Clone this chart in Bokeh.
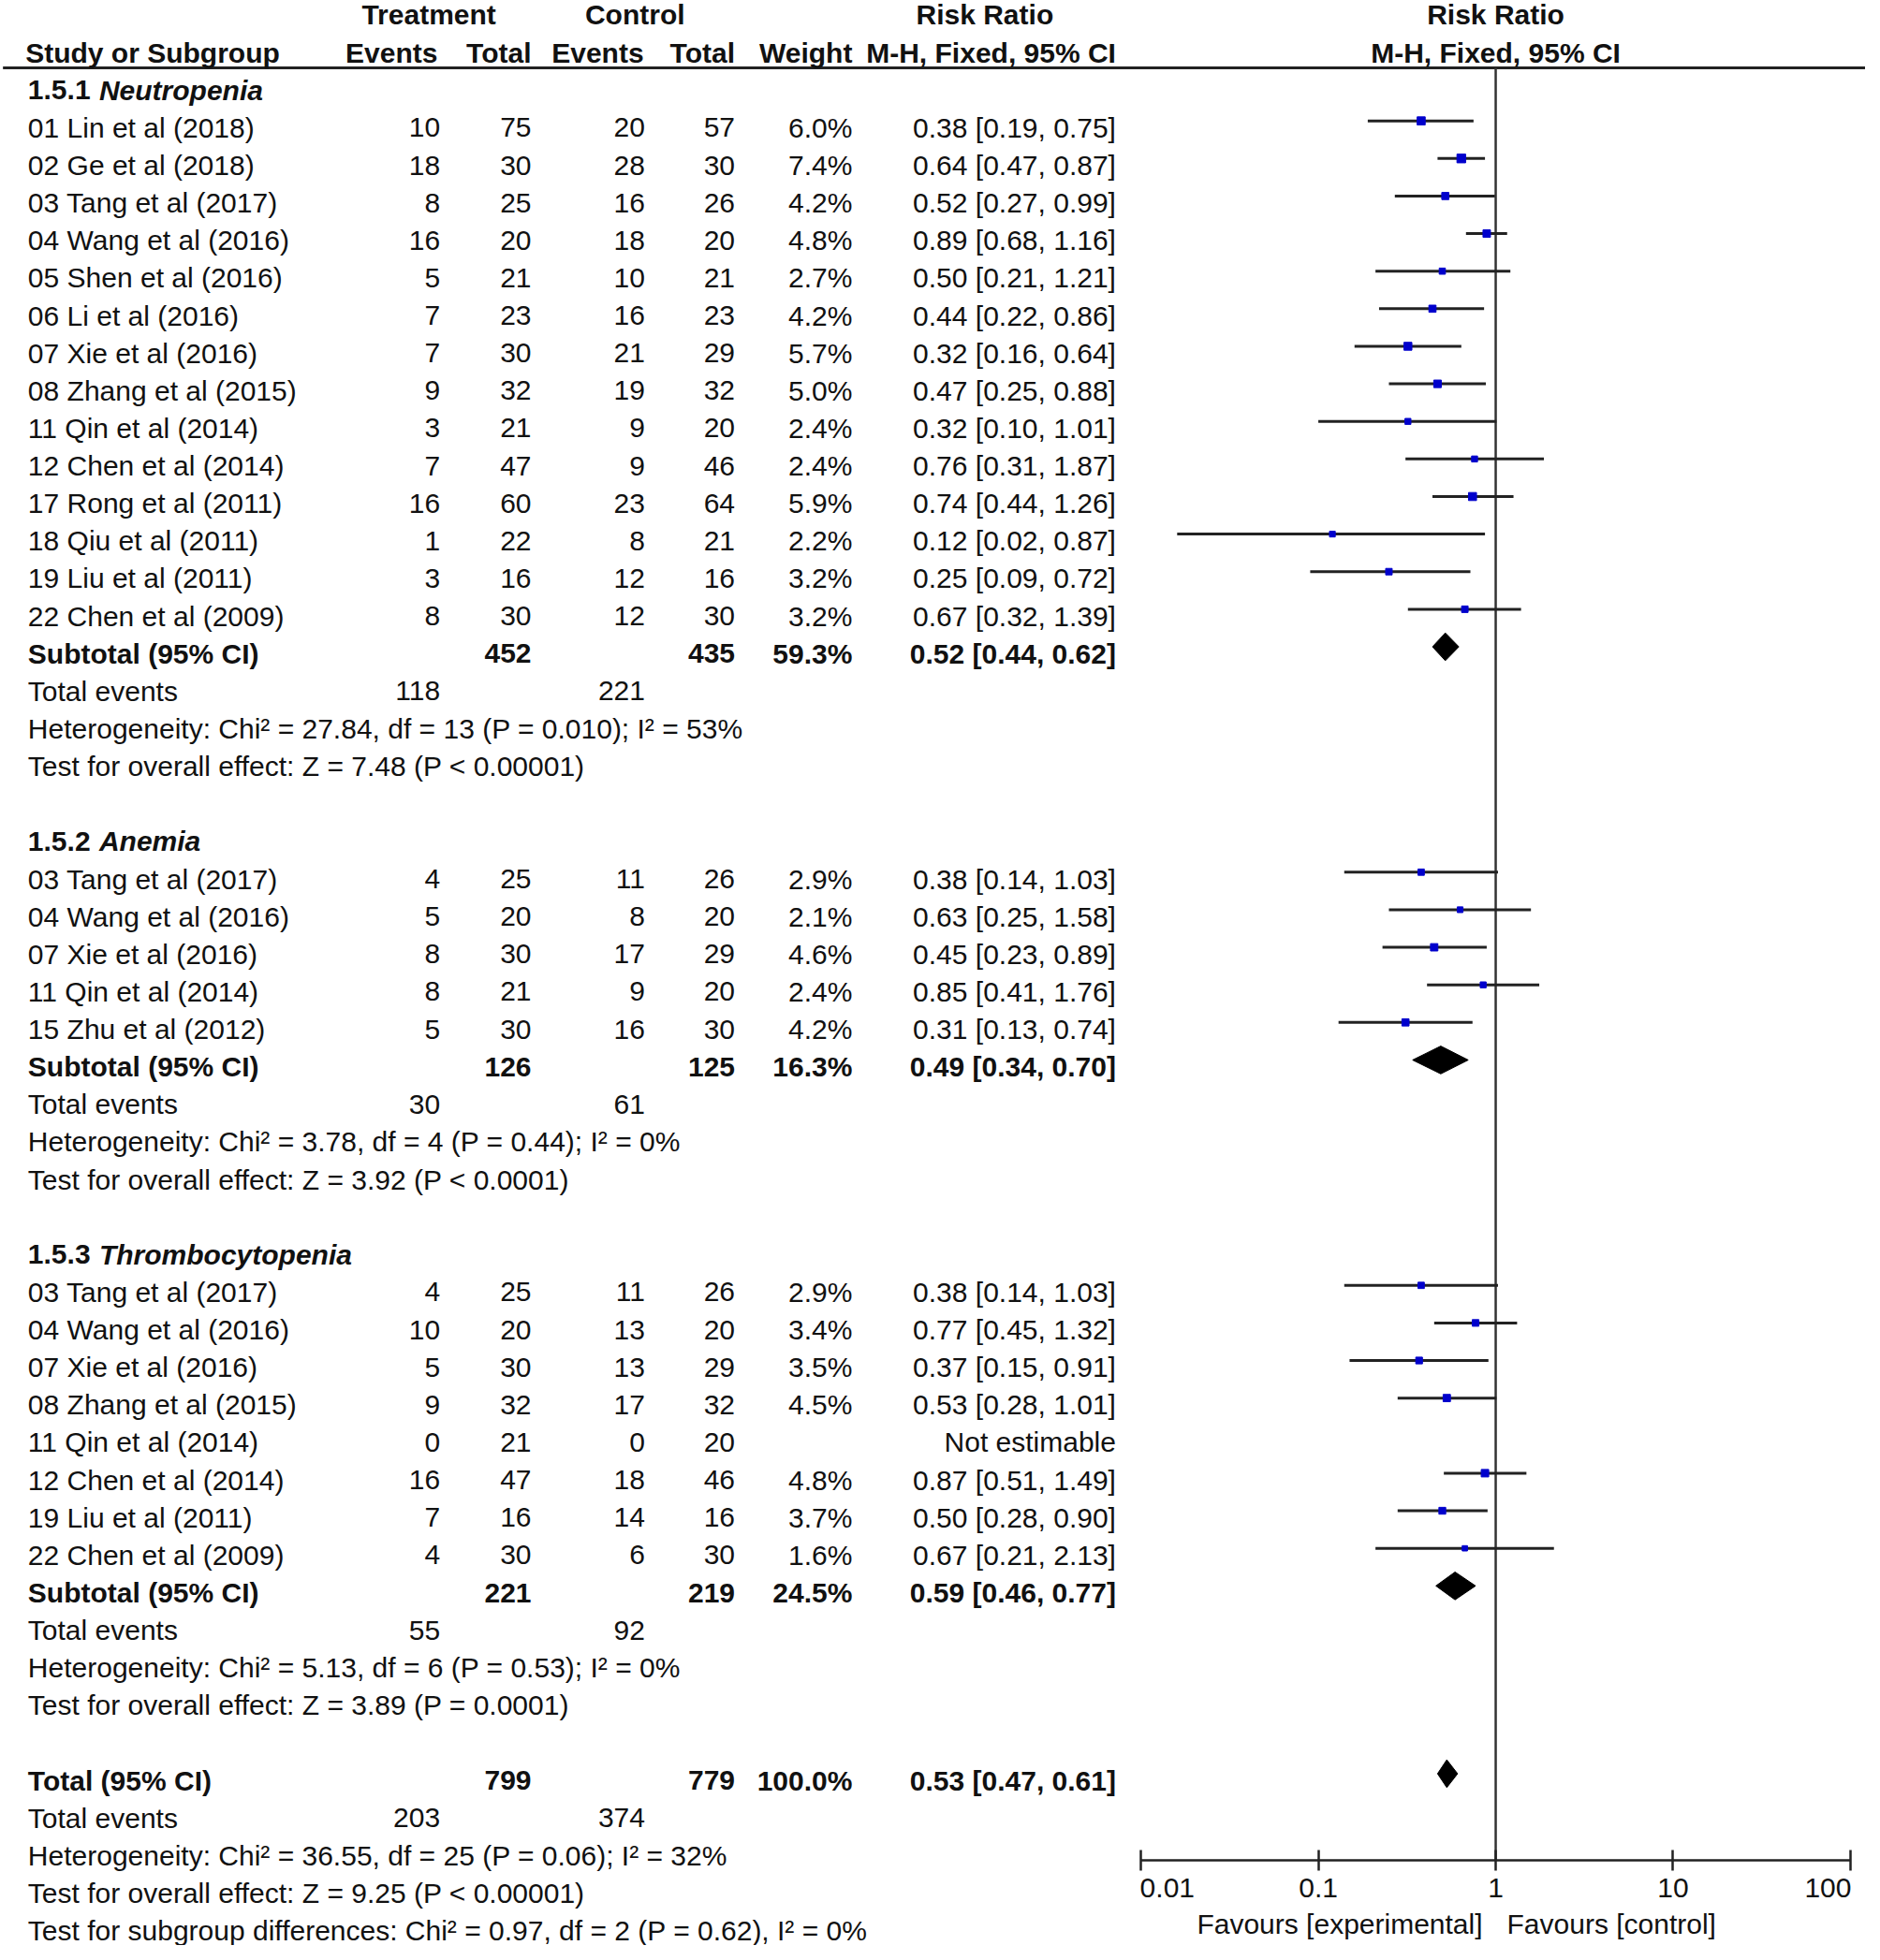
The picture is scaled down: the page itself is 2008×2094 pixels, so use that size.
import math
from bokeh.plotting import figure
from bokeh.models import (Range1d, LogScale, LogAxis, FixedTicker,
                          CustomJSTickFormatter, ColumnDataSource)
from bokeh.core.properties import value
from bokeh.embed import file_html
from bokeh.resources import INLINE

# ---------------------------------------------------------------- data
group_codes = ["1.5.1", "1.5.2", "1.5.3"]
group_names = ["Neutropenia", "Anemia", "Thrombocytopenia"]

neut_study = ["01 Lin et al (2018)", "02 Ge et al (2018)", "03 Tang et al (2017)",
              "04 Wang et al (2016)", "05 Shen et al (2016)", "06 Li et al (2016)",
              "07 Xie et al (2016)", "08 Zhang et al (2015)", "11 Qin et al (2014)",
              "12 Chen et al (2014)", "17 Rong et al (2011)", "18 Qiu et al (2011)",
              "19 Liu et al (2011)", "22 Chen et al (2009)"]
neut_te = [10, 18, 8, 16, 5, 7, 7, 9, 3, 7, 16, 1, 3, 8]
neut_tt = [75, 30, 25, 20, 21, 23, 30, 32, 21, 47, 60, 22, 16, 30]
neut_ce = [20, 28, 16, 18, 10, 16, 21, 19, 9, 9, 23, 8, 12, 12]
neut_ct = [57, 30, 26, 20, 21, 23, 29, 32, 20, 46, 64, 21, 16, 30]
neut_w = [6.0, 7.4, 4.2, 4.8, 2.7, 4.2, 5.7, 5.0, 2.4, 2.4, 5.9, 2.2, 3.2, 3.2]
neut_rr = [0.38, 0.64, 0.52, 0.89, 0.50, 0.44, 0.32, 0.47, 0.32, 0.76, 0.74, 0.12, 0.25, 0.67]
neut_lo = [0.19, 0.47, 0.27, 0.68, 0.21, 0.22, 0.16, 0.25, 0.10, 0.31, 0.44, 0.016, 0.09, 0.32]
neut_hi = [0.75, 0.87, 0.99, 1.16, 1.21, 0.86, 0.64, 0.88, 1.01, 1.87, 1.26, 0.87, 0.72, 1.39]

anem_study = ["03 Tang et al (2017)", "04 Wang et al (2016)", "07 Xie et al (2016)",
              "11 Qin et al (2014)", "15 Zhu et al (2012)"]
anem_te = [4, 5, 8, 8, 5]
anem_tt = [25, 20, 30, 21, 30]
anem_ce = [11, 8, 17, 9, 16]
anem_ct = [26, 20, 29, 20, 30]
anem_w = [2.9, 2.1, 4.6, 2.4, 4.2]
anem_rr = [0.38, 0.63, 0.45, 0.85, 0.31]
anem_lo = [0.14, 0.25, 0.23, 0.41, 0.13]
anem_hi = [1.03, 1.58, 0.89, 1.76, 0.74]

thro_study = ["03 Tang et al (2017)", "04 Wang et al (2016)", "07 Xie et al (2016)",
              "08 Zhang et al (2015)", "11 Qin et al (2014)", "12 Chen et al (2014)",
              "19 Liu et al (2011)", "22 Chen et al (2009)"]
thro_te = [4, 10, 5, 9, 0, 16, 7, 4]
thro_tt = [25, 20, 30, 32, 21, 47, 16, 30]
thro_ce = [11, 13, 13, 17, 0, 18, 14, 6]
thro_ct = [26, 20, 29, 32, 20, 46, 16, 30]
thro_w = [2.9, 3.4, 3.5, 4.5, None, 4.8, 3.7, 1.6]
thro_rr = [0.38, 0.77, 0.37, 0.53, None, 0.87, 0.50, 0.67]
thro_lo = [0.14, 0.45, 0.15, 0.28, None, 0.51, 0.28, 0.21]
thro_hi = [1.03, 1.32, 0.91, 1.01, None, 1.49, 0.90, 2.13]

sub_tt = [452, 126, 221]
sub_ct = [435, 125, 219]
sub_w = [59.3, 16.3, 24.5]
sub_rr = [0.52, 0.49, 0.59]
sub_lo = [0.44, 0.34, 0.46]
sub_hi = [0.62, 0.70, 0.77]
sub_ev_t = [118, 30, 55]
sub_ev_c = [221, 61, 92]
sub_het = ["Heterogeneity: Chi\u00b2 = 27.84, df = 13 (P = 0.010); I\u00b2 = 53%",
           "Heterogeneity: Chi\u00b2 = 3.78, df = 4 (P = 0.44); I\u00b2 = 0%",
           "Heterogeneity: Chi\u00b2 = 5.13, df = 6 (P = 0.53); I\u00b2 = 0%"]
sub_test = ["Test for overall effect: Z = 7.48 (P < 0.00001)",
            "Test for overall effect: Z = 3.92 (P < 0.0001)",
            "Test for overall effect: Z = 3.89 (P = 0.0001)"]

tot_tt, tot_ct, tot_w = 799, 779, 100.0
tot_rr, tot_lo, tot_hi = 0.53, 0.47, 0.61
tot_ev_t, tot_ev_c = 203, 374
tot_het = "Heterogeneity: Chi\u00b2 = 36.55, df = 25 (P = 0.06); I\u00b2 = 32%"
tot_test = "Test for overall effect: Z = 9.25 (P < 0.00001)"
tot_subdiff = "Test for subgroup differences: Chi\u00b2 = 0.97, df = 2 (P = 0.62), I\u00b2 = 0%"

axis_ticks = [0.01, 0.1, 1, 10, 100]
label_left = "Favours [experimental]"
label_right = "Favours [control]"

groups = [
    (neut_study, neut_te, neut_tt, neut_ce, neut_ct, neut_w, neut_rr, neut_lo, neut_hi),
    (anem_study, anem_te, anem_tt, anem_ce, anem_ct, anem_w, anem_rr, anem_lo, anem_hi),
    (thro_study, thro_te, thro_tt, thro_ce, thro_ct, thro_w, thro_rr, thro_lo, thro_hi),
]

# ---------------------------------------------------------------- layout
W, H = 1992, 2078
SX, SY = 1.3342, 1.3355       # pixels per layout unit
XL, XR = 0.0, W / SX
ROW0, ROWH = 11.6, 30.05      # first row centre / row height (layout units)
YT = (0.0 - ROW0) / ROWH
YB = (H / SY - ROW0) / ROWH
X_ONE, DEC = 1197.0, 142.0    # position of RR = 1 and width of one decade
RR_LO = 10 ** ((XL - X_ONE) / DEC)
RR_HI = 10 ** ((XR - X_ONE) / DEC)


def yrow(d):
    return (d - ROW0) / ROWH


C_NAME, C_ITAL = 22, 79
C_TE, C_TT, C_CE, C_CT, C_W, C_CI = 352, 425, 516, 588, 682, 893
FS = "30px"
FONT = value("Liberation Sans")
TXT = "#111111"
OFF = -0.18                   # graphics sit slightly above the text centre
DH = 0.37                     # diamond half height (rows)


def fmt_ci(r, l, h):
    return f"{r:.2f} [{l:.2f}, {h:.2f}]"


p = figure(width=W, height=H, x_range=Range1d(XL, XR), y_range=Range1d(YB, YT),
           x_axis_type=None, y_axis_type=None, output_backend="svg",
           toolbar_location=None, min_border=0)
p.extra_x_ranges = {"rr": Range1d(RR_LO, RR_HI)}
p.extra_x_scales = {"rr": LogScale()}
p.outline_line_color = None
p.background_fill_color = "white"
p.border_fill_color = "white"

styles = {k: dict(x=[], y=[], text=[]) for k in
          ["reg_l", "reg_r", "bold_l", "bold_r", "bold_c", "bi_l"]}


def put(style, x, y, t):
    styles[style]["x"].append(x)
    styles[style]["y"].append(y)
    styles[style]["text"].append(t)


# header rows
put("bold_c", 343, 0, "Treatment")
put("bold_c", 508, 0, "Control")
put("bold_c", 788, 0, "Risk Ratio")
put("bold_l", 20, 1, "Study or Subgroup")
put("bold_r", C_TE - 2, 1, "Events")
put("bold_r", C_TT, 1, "Total")
put("bold_r", C_CE - 1, 1, "Events")
put("bold_r", C_CT, 1, "Total")
put("bold_r", C_W, 1, "Weight")
put("bold_r", C_CI, 1, "M-H, Fixed, 95% CI")

seg = dict(x0=[], x1=[], y=[])
sq = dict(x=[], y=[], size=[])
dia = dict(xs=[], ys=[])

row = 2
for gi, g in enumerate(groups):
    study, te, tt, ce, ct, w, rr, lo, hi = g
    put("bold_l", C_NAME, row, group_codes[gi])
    put("bi_l", C_ITAL, row, group_names[gi])
    row += 1
    for i in range(len(study)):
        put("reg_l", C_NAME, row, study[i])
        put("reg_r", C_TE, row, str(te[i]))
        put("reg_r", C_TT, row, str(tt[i]))
        put("reg_r", C_CE, row, str(ce[i]))
        put("reg_r", C_CT, row, str(ct[i]))
        if rr[i] is None:
            put("reg_r", C_CI, row, "Not estimable")
        else:
            put("reg_r", C_W, row, f"{w[i]:.1f}%")
            put("reg_r", C_CI, row, fmt_ci(rr[i], lo[i], hi[i]))
            seg["x0"].append(lo[i]); seg["x1"].append(hi[i]); seg["y"].append(row + OFF)
            sq["x"].append(rr[i]); sq["y"].append(row + OFF)
            sq["size"].append(2.5 + 2.5 * math.sqrt(w[i]))
        row += 1
    put("bold_l", C_NAME, row, "Subtotal (95% CI)")
    put("bold_r", C_TT, row, str(sub_tt[gi]))
    put("bold_r", C_CT, row, str(sub_ct[gi]))
    put("bold_r", C_W, row, f"{sub_w[gi]:.1f}%")
    put("bold_r", C_CI, row, fmt_ci(sub_rr[gi], sub_lo[gi], sub_hi[gi]))
    yc = row + OFF
    dia["xs"].append([sub_lo[gi], sub_rr[gi], sub_hi[gi], sub_rr[gi]])
    dia["ys"].append([yc, yc - DH, yc, yc + DH])
    row += 1
    put("reg_l", C_NAME, row, "Total events")
    put("reg_r", C_TE, row, str(sub_ev_t[gi]))
    put("reg_r", C_CE, row, str(sub_ev_c[gi]))
    row += 1
    put("reg_l", C_NAME, row, sub_het[gi])
    row += 1
    put("reg_l", C_NAME, row, sub_test[gi])
    row += 2

put("bold_l", C_NAME, row, "Total (95% CI)")
put("bold_r", C_TT, row, str(tot_tt))
put("bold_r", C_CT, row, str(tot_ct))
put("bold_r", C_W, row, f"{tot_w:.1f}%")
put("bold_r", C_CI, row, fmt_ci(tot_rr, tot_lo, tot_hi))
yc = row + OFF
dia["xs"].append([tot_lo, tot_rr, tot_hi, tot_rr])
dia["ys"].append([yc, yc - DH, yc, yc + DH])
row += 1
put("reg_l", C_NAME, row, "Total events")
put("reg_r", C_TE, row, str(tot_ev_t))
put("reg_r", C_CE, row, str(tot_ev_c))
row += 1
put("reg_l", C_NAME, row, tot_het)
row += 1
put("reg_l", C_NAME, row, tot_test)
row += 1
put("reg_l", C_NAME, row, tot_subdiff)

AXIS_ROW = yrow(1488.0)
LINE_ROW = yrow(54.0)
TICKLAB_ROW = yrow(1510.0)
FAV_ROW = yrow(1539.0)

# header rule and the line of no effect
p.segment(x0=[2], x1=[1503], y0=[LINE_ROW], y1=[LINE_ROW], line_color="#222222", line_width=3)
p.segment(x0=[1], x1=[1], y0=[LINE_ROW], y1=[AXIS_ROW], x_range_name="rr",
          line_color="#333333", line_width=2.5)

# study CIs and squares
p.segment(x0="x0", x1="x1", y0="y", y1="y", source=ColumnDataSource(seg),
          x_range_name="rr", line_color="#222222", line_width=3)
p.scatter(x="x", y="y", size="size", marker="square", source=ColumnDataSource(sq),
          x_range_name="rr", fill_color="#0000CC", line_color="#0000CC")
p.patches(xs="xs", ys="ys", source=ColumnDataSource(dia), x_range_name="rr",
          fill_color="black", line_color="black")

# texts
spec = {
    "reg_l": ("normal", "left"), "reg_r": ("normal", "right"),
    "bold_l": ("bold", "left"), "bold_r": ("bold", "right"),
    "bold_c": ("bold", "center"), "bi_l": ("bold italic", "left"),
}
for k, (fst, al) in spec.items():
    p.text(x="x", y="y", text="text", source=ColumnDataSource(styles[k]),
           text_font=FONT, text_font_size=FS, text_font_style=fst,
           text_align=al, text_baseline="middle", text_color=TXT)

# right-hand column header, centred on RR = 1
p.text(x=[1, 1], y=[0, 1], text=["Risk Ratio", "M-H, Fixed, 95% CI"], x_range_name="rr",
       text_font=FONT, text_font_size=FS, text_font_style="bold",
       text_align="center", text_baseline="middle", text_color=TXT)

# favours labels
p.text(x=[1], y=[FAV_ROW], text=[label_left], x_range_name="rr", x_offset=-14,
       text_font=FONT, text_font_size=FS, text_align="right", text_baseline="middle",
       text_color=TXT)
p.text(x=[1], y=[FAV_ROW], text=[label_right], x_range_name="rr", x_offset=12,
       text_font=FONT, text_font_size=FS, text_align="left", text_baseline="middle",
       text_color=TXT)

# log axis of the forest plot (end labels are kept inside the axis, as in RevMan)
ax = LogAxis(x_range_name="rr", fixed_location=AXIS_ROW,
             bounds=(axis_ticks[0], axis_ticks[-1]),
             ticker=FixedTicker(ticks=axis_ticks, minor_ticks=[]),
             formatter=CustomJSTickFormatter(
                 code="if (index == 0 || index == ticks.length - 1) { return ''; } "
                      "return tick.toString();"))
ax.axis_line_width = 2.5
ax.axis_line_color = "#222222"
ax.major_tick_line_width = 2.5
ax.major_tick_line_color = "#222222"
ax.major_tick_in = 11
ax.major_tick_out = 11
ax.major_label_standoff = 8
ax.major_label_text_font = "Liberation Sans"
ax.major_label_text_font_size = FS
ax.major_label_text_color = TXT
p.add_layout(ax, "below")

p.text(x=[axis_ticks[0]], y=[TICKLAB_ROW], text=[str(axis_ticks[0])], x_range_name="rr",
       x_offset=-1, text_font=FONT, text_font_size=FS, text_align="left",
       text_baseline="middle", text_color=TXT)
p.text(x=[axis_ticks[-1]], y=[TICKLAB_ROW], text=[str(axis_ticks[-1])], x_range_name="rr",
       x_offset=1, text_font=FONT, text_font_size=FS, text_align="right",
       text_baseline="middle", text_color=TXT)

open("out.html", "w").write(file_html(p, INLINE))
